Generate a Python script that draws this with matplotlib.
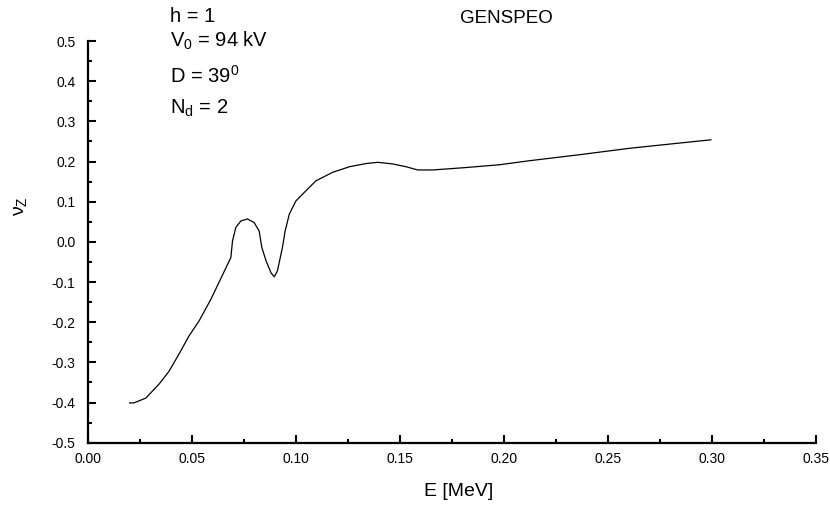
import matplotlib
matplotlib.use('Agg')
import matplotlib.pyplot as plt
from matplotlib.ticker import MultipleLocator, FormatStrFormatter

# curve
energy = [0.020, 0.0221, 0.0278, 0.0342, 0.039, 0.0438, 0.0486, 0.0534, 0.0591,
          0.0687, 0.0695, 0.0711, 0.0735, 0.0767, 0.0799, 0.0823, 0.0836, 0.0856,
          0.088, 0.0896, 0.0911, 0.0935, 0.0948, 0.0968, 0.100, 0.104, 0.1096,
          0.1176, 0.1257, 0.1337, 0.1393, 0.1465, 0.153, 0.1585, 0.1658, 0.1818,
          0.1979, 0.2123, 0.2364, 0.2605, 0.2845, 0.2995]
nu_z = [-0.401, -0.401, -0.389, -0.354, -0.322, -0.279, -0.234, -0.197, -0.143,
        -0.039, 0.0025, 0.036, 0.052, 0.057, 0.048, 0.027, -0.014, -0.047,
        -0.077, -0.087, -0.072, -0.014, 0.027, 0.069, 0.102, 0.123, 0.152,
        0.173, 0.187, 0.195, 0.198, 0.194, 0.187, 0.179, 0.179, 0.185,
        0.192, 0.202, 0.217, 0.233, 0.246, 0.254]

params = ['h = 1', 'V$_\\mathregular{0}$ = 94 kV', 'D = 39$^\\mathregular{0}$',
          'N$_\\mathregular{d}$ = 2']
title = 'GENSPEO'

plt.rcParams['font.family'] = ['Liberation Sans', 'DejaVu Sans']
plt.rcParams['mathtext.fontset'] = 'custom'
plt.rcParams['mathtext.rm'] = 'Liberation Sans'
plt.rcParams['mathtext.it'] = 'Liberation Sans'

fig = plt.figure(figsize=(8.3, 5.09), dpi=100)
ax = fig.add_axes([0.1060, 0.1303, 0.877, 0.7891])

ax.plot(energy, nu_z, color='black', linewidth=0.9)

ax.set_xlim(0.0, 0.35)
ax.set_ylim(-0.5, 0.5)
ax.xaxis.set_major_locator(MultipleLocator(0.05))
ax.xaxis.set_minor_locator(MultipleLocator(0.025))
ax.yaxis.set_major_locator(MultipleLocator(0.1))
ax.yaxis.set_minor_locator(MultipleLocator(0.05))
ax.xaxis.set_major_formatter(FormatStrFormatter('%.2f'))
ax.yaxis.set_major_formatter(FormatStrFormatter('%.1f'))

for side in ['top', 'right']:
    ax.spines[side].set_visible(False)
for side in ['left', 'bottom']:
    ax.spines[side].set_linewidth(1.6)

ax.tick_params(which='major', direction='in', length=6, width=1.5,
               labelsize=10, colors='black')
ax.tick_params(which='minor', direction='in', length=3, width=1.5)
ax.tick_params(axis='x', which='major', pad=7)
ax.tick_params(axis='y', which='major', pad=9)

ax.set_xlabel('E [MeV]', fontsize=14)
ax.xaxis.set_label_coords(0.509, -0.10)
ax.set_ylabel('$\\mathregular{\\nu_Z}$', fontsize=14)
ax.yaxis.set_label_coords(-0.081, 0.588)

ys = [0.9562, 0.9083, 0.8375, 0.776]
for txt, y in zip(params, ys):
    fig.text(0.2048, y, txt, fontsize=14.5, va='baseline', ha='left')
fig.text(0.6096, 0.9554, title, fontsize=13.5, va='baseline', ha='center')

fig.savefig('out.png', dpi=100)
